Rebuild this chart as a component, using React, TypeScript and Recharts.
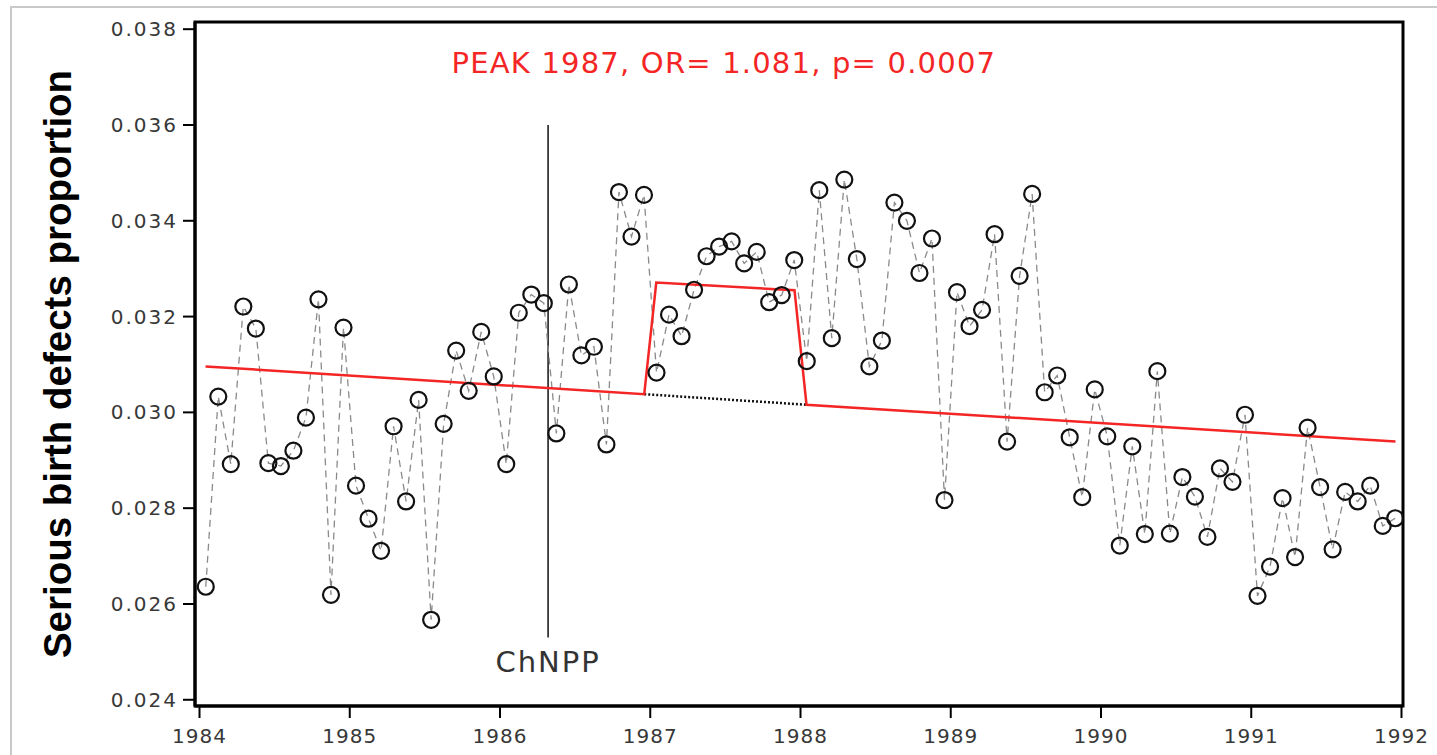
import React from "react";
import {
  ComposedChart,
  Line,
  XAxis,
  YAxis,
  ReferenceArea,
  ReferenceLine,
  ReferenceDot,
  Label,
} from "recharts";

// Monthly proportion of serious birth defects (Jan..Dec) per year
const years = [1984, 1985, 1986, 1987, 1988, 1989, 1990, 1991];
const p1984 = [0.02636, 0.03033, 0.02892, 0.03221, 0.03175, 0.02894, 0.02888, 0.0292, 0.02989, 0.03236, 0.02619, 0.03177];
const p1985 = [0.02847, 0.02778, 0.02711, 0.02971, 0.02814, 0.03026, 0.02567, 0.02976, 0.03129, 0.03045, 0.03168, 0.03075];
const p1986 = [0.02892, 0.03208, 0.03246, 0.03228, 0.02956, 0.03267, 0.03119, 0.03137, 0.02933, 0.0346, 0.03367, 0.03454];
const p1987 = [0.03083, 0.03204, 0.03159, 0.03256, 0.03326, 0.03346, 0.03357, 0.03311, 0.03335, 0.0323, 0.03245, 0.03318];
const p1988 = [0.03107, 0.03464, 0.03155, 0.03486, 0.0332, 0.03096, 0.0315, 0.03438, 0.034, 0.03291, 0.03363, 0.02817];
const p1989 = [0.03251, 0.0318, 0.03214, 0.03372, 0.02939, 0.03285, 0.03456, 0.03042, 0.03077, 0.02948, 0.02823, 0.03048];
const p1990 = [0.0295, 0.02722, 0.02929, 0.02746, 0.03086, 0.02747, 0.02865, 0.02824, 0.0274, 0.02883, 0.02855, 0.02995];
const p1991 = [0.02617, 0.02678, 0.02821, 0.02698, 0.02968, 0.02844, 0.02714, 0.02834, 0.02814, 0.02847, 0.02763, 0.02779];
const yearly = [p1984, p1985, p1986, p1987, p1988, p1989, p1990, p1991];

// Fitted model (red): trend with 1987 peak
const fitT = [1984.04, 1986.96, 1987.04, 1987.96, 1988.04, 1991.96];
const fitV = [0.03096, 0.03038, 0.03271, 0.03255, 0.03016, 0.02939];
// Baseline trend under the peak (dotted)
const baseT = [1986.96, 1988.04];
const baseV = [0.03038, 0.03016];

// ChNPP accident marker
const chnppT = 1986.32;
const chnppRange = [0.0253, 0.036];

const xTicks = [1984, 1985, 1986, 1987, 1988, 1989, 1990, 1991, 1992];
const yTicks = [0.024, 0.026, 0.028, 0.03, 0.032, 0.034, 0.036, 0.038];
const xDomain = [1983.97, 1992.01];
const yDomain = [0.02387, 0.03815];

const title = "PEAK 1987, OR= 1.081, p= 0.0007";
const yLabel = "Serious birth defects proportion";

const monthly = years.flatMap((y, yi) =>
  yearly[yi].map((v, m) => ({ t: y + (m + 0.5) / 12, v }))
);
const fitData = fitT.map((t, i) => ({ t, v: fitV[i] }));
const baseData = baseT.map((t, i) => ({ t, v: baseV[i] }));

const RED = "#f42525";

const CircleDot = (props: any) => {
  const { cx, cy, index } = props;
  if (cx == null || cy == null) return null;
  return (
    <circle key={`d${index}`} cx={cx} cy={cy} r={8} fill="none" stroke="#111" strokeWidth={2.2} />
  );
};

export default function App() {
  return (
    <div
      style={{
        position: "relative",
        width: 1437,
        height: 755,
        overflow: "hidden",
        background: "#fff",
        fontFamily: "'DejaVu Sans', sans-serif",
      }}
    >
      <style>{"body{margin:0}"}</style>
      <div
        style={{
          position: "absolute",
          left: 10,
          top: 6,
          width: 1460,
          height: 800,
          border: "2px solid #c9c9c9",
          boxSizing: "border-box",
        }}
      />
      <div style={{ position: "absolute", left: 0, top: 0 }}>
        <ComposedChart
          width={1437}
          height={755}
          margin={{ top: 22, right: 34, left: 95, bottom: 9 }}
        >
          <XAxis
            dataKey="t"
            type="number"
            domain={xDomain}
            ticks={xTicks}
            allowDataOverflow
            height={40}
            axisLine={{ stroke: "#000", strokeWidth: 3 }}
            tickLine={{ stroke: "#000", strokeWidth: 2 }}
            tickSize={12}
            tickMargin={11}
            tick={{ fontSize: 20, fill: "#383838", fontFamily: "DejaVu Sans", letterSpacing: 1 }}
          />
          <YAxis
            type="number"
            domain={yDomain}
            ticks={yTicks}
            allowDataOverflow
            width={100}
            axisLine={{ stroke: "#000", strokeWidth: 3 }}
            tickLine={{ stroke: "#000", strokeWidth: 2 }}
            tickSize={12}
            tickMargin={5}
            tickFormatter={(v: number) => v.toFixed(3)}
            tick={{ fontSize: 20, fill: "#383838", fontFamily: "DejaVu Sans", letterSpacing: 2 }}
          >
            <Label
              value={yLabel}
              angle={-90}
              position="center"
              dx={-88}
              style={{
                fontSize: 38.5,
                fontWeight: "bold",
                fill: "#000",
                fontFamily: "'Liberation Sans', Arial, sans-serif",
              }}
            />
          </YAxis>
          <ReferenceArea
            x1={xDomain[0]}
            x2={xDomain[1]}
            y1={yDomain[0]}
            y2={yDomain[1]}
            fill="none"
            stroke="#000"
            strokeWidth={3}
            ifOverflow="visible"
          />
          <ReferenceLine
            segment={[
              { x: chnppT, y: chnppRange[0] },
              { x: chnppT, y: chnppRange[1] },
            ]}
            stroke="#111"
            strokeWidth={1.5}
          >
            <Label
              value="ChNPP"
              position="bottom"
              offset={14}
              style={{ fontSize: 29, fill: "#333", fontFamily: "DejaVu Sans", letterSpacing: 2 }}
            />
          </ReferenceLine>
          <Line
            data={monthly}
            dataKey="v"
            type="linear"
            stroke="#8a8a8a"
            strokeWidth={1.3}
            strokeDasharray="7 5"
            dot={<CircleDot />}
            activeDot={false}
            isAnimationActive={false}
          />
          <Line
            data={baseData}
            dataKey="v"
            type="linear"
            stroke="#111"
            strokeWidth={2.5}
            strokeDasharray="2 2"
            dot={false}
            activeDot={false}
            isAnimationActive={false}
          />
          <Line
            data={fitData}
            dataKey="v"
            type="linear"
            stroke={RED}
            strokeWidth={2.5}
            dot={false}
            activeDot={false}
            isAnimationActive={false}
          />
          <ReferenceDot x={1987.49} y={0.03731} r={0} fill="none" stroke="none">
            <Label
              value={title}
              position="center"
              style={{ fontSize: 29, fill: RED, fontFamily: "DejaVu Sans", letterSpacing: 1.2 }}
            />
          </ReferenceDot>
        </ComposedChart>
      </div>
    </div>
  );
}
